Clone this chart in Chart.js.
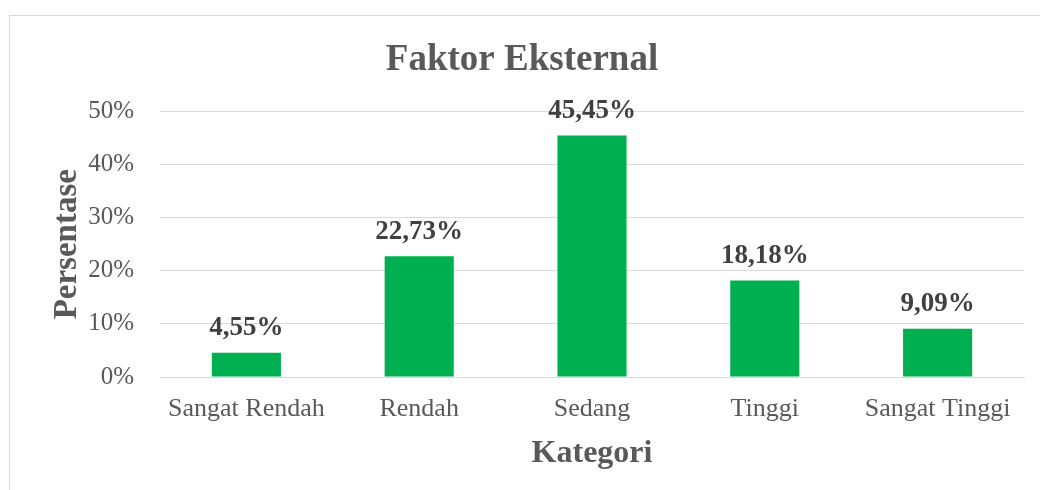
<!DOCTYPE html>
<html>
<head>
<meta charset="utf-8">
<script src="https://cdn.jsdelivr.net/npm/chart.js@4/dist/chart.umd.min.js"></script>
<style>
  body { margin: 0; background: #fff; }
  #wrap { width: 1040px; height: 490px; }
</style>
</head>
<body>
<div id="wrap"><canvas id="chart" width="1040" height="490"></canvas></div>
<script>
const categories = ["Sangat Rendah", "Rendah", "Sedang", "Tinggi", "Sangat Tinggi"];
const values = [4.55, 22.73, 45.45, 18.18, 9.09];
const labels = ["4,55%", "22,73%", "45,45%", "18,18%", "9,09%"];

const serif = "'Liberation Serif', 'Times New Roman', serif";

// frame around the chart + value labels above bars
const extras = {
  id: "extras",
  beforeDraw(chart) {
    const c = chart.ctx;
    c.save();
    c.strokeStyle = "#d9d9d9";
    c.lineWidth = 1;
    c.strokeRect(9.5, 15.5, 1100, 600);
    c.restore();
  },
  afterDatasetsDraw(chart) {
    const c = chart.ctx;
    const meta = chart.getDatasetMeta(0);
    c.save();
    c.font = "bold 27px " + serif;
    c.fillStyle = "#404040";
    c.textAlign = "center";
    c.textBaseline = "bottom";
    meta.data.forEach((bar, i) => {
      c.fillText(labels[i], bar.x, bar.y - 11);
    });
    c.restore();
  }
};

new Chart(document.getElementById("chart"), {
  type: "bar",
  data: {
    labels: categories,
    datasets: [{
      data: values,
      backgroundColor: "#00b050",
      categoryPercentage: 1,
      barPercentage: 0.4
    }]
  },
  options: {
    responsive: false,
    animation: false,
    layout: { padding: { left: 20, right: 16, top: 0, bottom: 0 } },
    plugins: {
      legend: { display: false },
      tooltip: { enabled: false },
      title: {
        display: true,
        text: "Faktor Eksternal",
        color: "#595959",
        font: { family: serif, size: 37, weight: "bold" },
        padding: { top: 38, bottom: 29 }
      }
    },
    scales: {
      x: {
        afterFit(s) { s.height = 113; },
        grid: { display: false, drawTicks: false },
        border: { color: "#d9d9d9" },
        ticks: { color: "#595959", font: { family: serif, size: 26 }, padding: 17 },
        title: {
          display: true,
          text: "Kategori",
          color: "#595959",
          font: { family: serif, size: 32, weight: "bold" },
          padding: { top: 0, bottom: 17 }
        }
      },
      y: {
        min: 0,
        max: 50,
        afterFit(s) { s.width = 140; },
        grid: { color: "#d9d9d9", drawTicks: false },
        border: { display: false },
        ticks: {
          stepSize: 10,
          padding: 26,
          color: "#595959",
          font: { family: serif, size: 25 },
          callback: v => v + "%"
        },
        title: {
          display: true,
          text: "Persentase",
          color: "#595959",
          font: { family: serif, size: 33, weight: "bold" },
          padding: { top: 28 }
        }
      }
    }
  },
  plugins: [extras]
});
</script>
</body>
</html>
